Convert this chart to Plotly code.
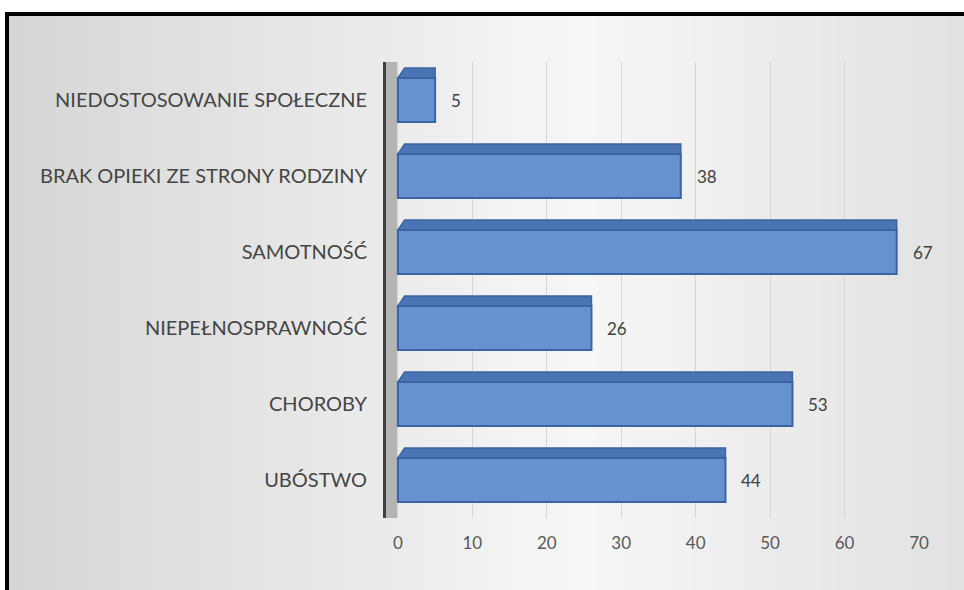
import plotly.graph_objects as go

categories = ["UBÓSTWO", "CHOROBY", "NIEPEŁNOSPRAWNOŚĆ", "SAMOTNOŚĆ",
              "BRAK OPIEKI ZE STRONY RODZINY", "NIEDOSTOSOWANIE SPOŁECZNE"]
values = [44, 53, 26, 67, 38, 5]
x_ticks = [0, 10, 20, 30, 40, 50, 60, 70]

W, H = 964, 590
L, R, T, B = 386, 919, 62, 518  # plot area in pixels
XMIN, XMAX = -1.6, 70
BAR_W = 0.58
TOP_D = 0.13


def px(x):
    return (x - L) / (R - L)


def py(y):
    return (B - y) / (B - T)


shapes = []
# background gradient (horizontal strips)
N = 60
for i in range(N):
    x0 = 9 + (W - 9) * i / N
    x1 = 9 + (W - 9) * (i + 1) / N + 1
    t = (x0 + x1) / 2 / W
    if t < 0.6:
        v = 214 + (247 - 214) * (t / 0.6)
    else:
        v = 247 - (247 - 226) * ((t - 0.6) / 0.4)
    c = int(v)
    shapes.append(dict(type="rect", xref="paper", yref="paper", layer="below",
                       x0=px(x0), x1=px(x1), y0=py(H + 5), y1=py(15),
                       line=dict(width=0), fillcolor=f"rgb({c},{c},{c})"))
# side wall of the 3D plot
shapes.append(dict(type="rect", xref="x", yref="paper", layer="below",
                   x0=XMIN, x1=0, y0=0, y1=1, line=dict(width=0),
                   fillcolor="#b4b4b4"))
# 3D top faces of bars, derived from the data
for i, v in enumerate(values):
    y0 = i + BAR_W / 2
    y1 = y0 + TOP_D
    shapes.append(dict(type="path", xref="x", yref="y", layer="above",
                       path=f"M 0 {y0} L {v} {y0} L {v} {y1} L 0.9 {y1} Z",
                       fillcolor="#4a74b3", line=dict(color="#3b64a0", width=1.5)))
# black frame
shapes.append(dict(type="rect", xref="paper", yref="paper", layer="above",
                   x0=px(7), x1=px(W + 20), y0=py(H + 20), y1=py(14),
                   line=dict(color="black", width=4), fillcolor="rgba(0,0,0,0)"))

annotations = [dict(x=v, y=c, xref="x", yref="y", text=str(v), showarrow=False,
                    xanchor="left", xshift=14,
                    font=dict(family="Lato, sans-serif", size=17, color="#404040"))
               for c, v in zip(categories, values)]

fig = go.Figure()
fig.add_trace(go.Bar(
    y=categories, x=values, orientation="h", width=BAR_W,
    marker=dict(color="#6692d0", line=dict(color="#3b64a0", width=2)),
))

fig.update_layout(
    width=W, height=H,
    margin=dict(l=L, r=W - R, t=T, b=H - B, pad=0),
    paper_bgcolor="white", plot_bgcolor="rgba(0,0,0,0)",
    showlegend=False,
    shapes=shapes, annotations=annotations,
    font=dict(family="Lato, sans-serif"),
    xaxis=dict(range=[XMIN, XMAX], tickvals=x_ticks, showgrid=True,
               gridcolor="#d6d6d6", gridwidth=1, zeroline=False,
               ticks="outside", ticklen=10, tickcolor="rgba(0,0,0,0)",
               tickfont=dict(size=17, color="#595959"), showline=False),
    yaxis=dict(showline=True, linecolor="#404040", linewidth=3,
               range=[-0.5, 5.5],
               ticks="outside", ticklen=12, tickcolor="rgba(0,0,0,0)",
               tickfont=dict(size=20, color="#454545"), showgrid=False),
)

fig.write_html("out.html", config={"displayModeBar": False},
               post_script="document.body.style.margin='0';")
